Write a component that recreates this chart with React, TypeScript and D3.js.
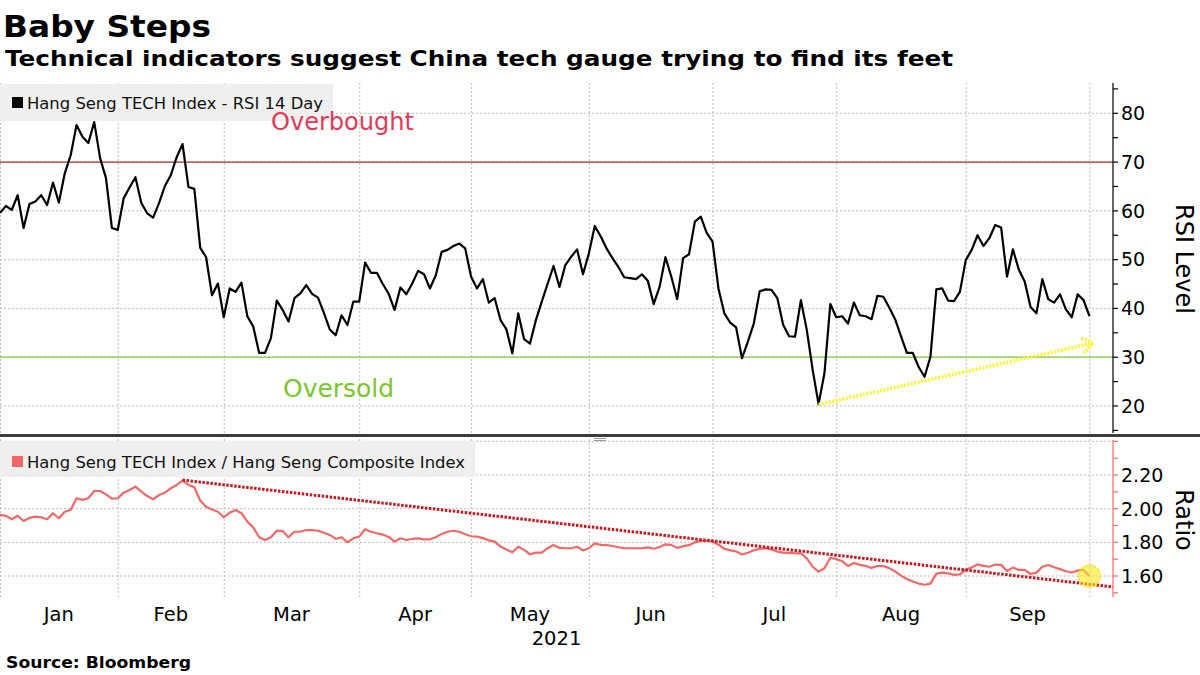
import React from 'react';
import * as d3 from 'd3';

// ---- Data (one value per HK trading day, Jan 4 – Sep 30, 2021) ----
const rsiValues: number[] = [
  59.6, 61.0, 60.2, 63.2, 56.5, 61.4, 61.9, 63.2, 61.2, 65.8,
  61.7, 67.7, 71.4, 77.6, 75.2, 73.9, 78.2, 70.8, 66.7, 56.5,
  56.1, 62.6, 64.8, 66.9, 61.6, 59.5, 58.6, 61.6, 65.1, 67.3,
  71.0, 73.7, 64.9, 64.5, 52.4, 50.5, 42.7, 45.1, 38.2, 44.1,
  43.4, 45.3, 38.4, 36.3, 30.9, 30.9, 33.9, 41.6, 39.7, 37.3,
  42.1, 43.1, 44.8, 43.0, 42.2, 39.1, 35.7, 34.5, 38.6, 36.6,
  41.4, 41.4, 49.4, 47.3, 47.3, 45.0, 43.0, 39.7, 44.3, 42.9,
  45.1, 47.7, 47.0, 44.1, 46.8, 51.6, 52.0, 52.8, 53.3, 52.3,
  46.5, 44.1, 46.0, 41.2, 42.1, 37.6, 35.7, 30.8, 39.0, 33.7,
  32.8, 37.6, 41.4, 45.1, 48.7, 44.4, 48.9, 50.6, 52.1, 47.0,
  51.3, 56.9, 54.8, 52.3, 50.3, 48.5, 46.4, 46.2, 46.0, 47.0,
  45.7, 40.9, 44.4, 50.5, 46.5, 41.9, 50.3, 51.1, 57.8, 58.8,
  55.5, 53.7, 44.1, 39.0, 37.1, 36.1, 29.8, 33.2, 36.9, 43.5,
  43.9, 43.8, 42.1, 36.6, 34.3, 34.2, 41.7, 35.6, 27.4, 20.4,
  26.7, 40.9, 38.2, 38.4, 36.9, 41.2, 38.6, 38.4, 37.8, 42.6,
  42.4, 40.2, 37.8, 34.3, 30.9, 30.9, 28.0, 26.0, 30.1, 43.9,
  44.1, 41.6, 41.5, 43.4, 49.9, 52.0, 55.0, 52.8, 54.4, 57.1,
  56.6, 46.5, 52.1, 48.0, 45.5, 40.3, 39.0, 46.0, 41.9, 41.2,
  42.9, 39.8, 38.2, 42.9, 41.7, 38.4,
];

const ratioValues: number[] = [
  1.963, 1.957, 1.937, 1.958, 1.927, 1.945, 1.953, 1.949, 1.937, 1.973,
  1.943, 1.982, 1.992, 2.062, 2.052, 2.062, 2.105, 2.105, 2.085, 2.060,
  2.062, 2.095, 2.111, 2.131, 2.101, 2.075, 2.056, 2.081, 2.095, 2.121,
  2.141, 2.166, 2.141, 2.127, 2.048, 2.012, 1.995, 1.982, 1.949, 1.976,
  1.992, 1.973, 1.923, 1.889, 1.830, 1.814, 1.830, 1.869, 1.867, 1.830,
  1.863, 1.863, 1.873, 1.873, 1.869, 1.857, 1.844, 1.820, 1.830, 1.800,
  1.824, 1.834, 1.878, 1.863, 1.854, 1.846, 1.832, 1.804, 1.824, 1.814,
  1.820, 1.824, 1.818, 1.818, 1.830, 1.850, 1.863, 1.869, 1.863, 1.848,
  1.836, 1.834, 1.825, 1.812, 1.804, 1.775, 1.757, 1.741, 1.774, 1.755,
  1.729, 1.739, 1.739, 1.765, 1.784, 1.767, 1.765, 1.765, 1.774, 1.752,
  1.765, 1.794, 1.785, 1.784, 1.778, 1.771, 1.766, 1.765, 1.765, 1.765,
  1.770, 1.762, 1.772, 1.788, 1.785, 1.767, 1.777, 1.783, 1.800, 1.809,
  1.808, 1.805, 1.786, 1.762, 1.752, 1.746, 1.728, 1.738, 1.753, 1.761,
  1.765, 1.758, 1.745, 1.739, 1.737, 1.735, 1.735, 1.705, 1.655, 1.626,
  1.646, 1.708, 1.701, 1.688, 1.660, 1.677, 1.666, 1.660, 1.648, 1.659,
  1.659, 1.647, 1.627, 1.602, 1.582, 1.567, 1.555, 1.548, 1.555, 1.614,
  1.620, 1.616, 1.607, 1.610, 1.638, 1.650, 1.669, 1.660, 1.655, 1.668,
  1.666, 1.630, 1.650, 1.636, 1.636, 1.612, 1.620, 1.655, 1.665, 1.652,
  1.641, 1.628, 1.621, 1.632, 1.636, 1.600,
];

const monthLabels = ['Jan', 'Feb', 'Mar', 'Apr', 'May', 'Jun', 'Jul', 'Aug', 'Sep'];
const monthStartIdx = [0, 20, 38, 61, 80, 100, 121, 142, 164, 185];
const yearLabel = '2021';

const rsiGridTicks = [20, 30, 40, 50, 60, 70, 80];
const rsiLabelTicks = [20, 30, 40, 50, 60, 70, 80];
const rsiMinorTicks = [15, 20, 25, 30, 35, 40, 45, 50, 55, 60, 65, 70, 75, 80, 85];
const ratioGridTicks = [1.6, 1.8, 2.0, 2.2, 2.4];
const ratioLabelTicks = [1.6, 1.8, 2.0, 2.2];
const ratioMinorTicks = [1.5, 1.6, 1.7, 1.8, 1.9, 2.0, 2.1, 2.2, 2.3, 2.4];

const overbought = 70;
const oversold = 30;
const rsiTrend = [{ i: 139, v: 20.3 }, { i: 185.6, v: 32.9 }];
const ratioTrend = [{ i: 31, v: 2.17 }, { i: 189, v: 1.535 }];

const FONT = 'DejaVu Sans, Verdana, sans-serif';

export default function App() {
  const W = 1200;
  const H = 675;
  const axisX = 1113;
  const topY0 = 83;
  const topY1 = 433;
  const botY0 = 440;
  const botY1 = 597;

  const x = d3.scaleLinear().domain([0, 189]).range([0, axisX]);
  const yR = d3.scaleLinear().domain([20, 80]).range([406, 113.3]);
  const yQ = d3.scaleLinear().domain([1.6, 2.2]).range([576, 475]);

  const rsiLine = d3.line<number>().x((_, i) => x(i)).y((d) => yR(d))(rsiValues) || '';
  const ratioLine = d3.line<number>().x((_, i) => x(i)).y((d) => yQ(d))(ratioValues) || '';

  // yellow arrow
  const ax0 = x(rsiTrend[0].i), ay0 = yR(rsiTrend[0].v);
  const ax1 = x(rsiTrend[1].i), ay1 = yR(rsiTrend[1].v);
  const ang = Math.atan2(ay1 - ay0, ax1 - ax0);
  const wing = 14;
  const w1 = [ax1 - wing * Math.cos(ang - 0.6), ay1 - wing * Math.sin(ang - 0.6)];
  const w2 = [ax1 - wing * Math.cos(ang + 0.6), ay1 - wing * Math.sin(ang + 0.6)];

  const lastI = ratioValues.length - 1;

  const monthMid = monthLabels.map((m, k) => ({
    m,
    cx: (x(monthStartIdx[k]) + x(monthStartIdx[k + 1])) / 2,
  }));

  return (
    <svg
      width={W}
      height={H}
      viewBox={`0 0 ${W} ${H}`}
      style={{ position: 'absolute', left: 0, top: 0, background: '#fff' }}
    >
      <rect x={0} y={0} width={W} height={H} fill="#fff" />

      {/* Titles */}
      <text x={3} y={36.5} fontFamily={FONT} fontWeight="bold" fontSize={30} fill="#000"
        textLength={208} lengthAdjust="spacingAndGlyphs">Baby Steps</text>
      <text x={5} y={66} fontFamily={FONT} fontWeight="bold" fontSize={22} fill="#000"
        textLength={948} lengthAdjust="spacingAndGlyphs">
        Technical indicators suggest China tech gauge trying to find its feet
      </text>

      {/* vertical month gridlines */}
      {monthStartIdx.map((idx) => (
        <line key={'vg' + idx} x1={x(idx) + 0.5} x2={x(idx) + 0.5} y1={topY0} y2={botY1}
          stroke="#bdbdbd" strokeWidth={1} strokeDasharray="2,2" />
      ))}

      {/* top panel horizontal gridlines */}
      {rsiGridTicks.map((t) => (
        <line key={'hg' + t} x1={0} x2={axisX} y1={yR(t)} y2={yR(t)}
          stroke="#bdbdbd" strokeWidth={1} strokeDasharray="2,2" />
      ))}
      {/* bottom panel horizontal gridlines */}
      {ratioGridTicks.map((t) => (
        <line key={'qg' + t} x1={0} x2={axisX} y1={yQ(t)} y2={yQ(t)}
          stroke="#bdbdbd" strokeWidth={1} strokeDasharray="2,2" />
      ))}

      {/* legend top */}
      <rect x={0} y={84} width={333} height={37} fill="#efefef" />
      <rect x={12} y={97} width={11} height={11} fill="#000" />
      <text x={27} y={108.5} fontFamily={FONT} fontSize={16.4} fill="#111"
        textLength={296} lengthAdjust="spacingAndGlyphs">Hang Seng TECH Index - RSI 14 Day</text>

      {/* overbought / oversold */}
      <line x1={0} x2={axisX} y1={yR(overbought)} y2={yR(overbought)} stroke="#a8322a" strokeWidth={1.2} />
      <line x1={0} x2={axisX} y1={yR(oversold)} y2={yR(oversold)} stroke="#8cc63f" strokeWidth={1.2} />
      <text x={271} y={130} fontFamily={FONT} fontSize={24} fill="#e0395a"
        textLength={143} lengthAdjust="spacingAndGlyphs">Overbought</text>
      <text x={283} y={397} fontFamily={FONT} fontSize={24} fill="#7cc62b"
        textLength={111} lengthAdjust="spacingAndGlyphs">Oversold</text>

      {/* RSI line */}
      <path d={rsiLine} fill="none" stroke="#000" strokeWidth={2.2} strokeLinejoin="round" />

      {/* yellow arrow */}
      <g stroke="#f9f62e" strokeWidth={3.5} strokeDasharray="2,1.5" fill="none">
        <line x1={ax0} y1={ay0} x2={ax1} y2={ay1} />
        <polyline points={`${w1[0]},${w1[1]} ${ax1},${ay1} ${w2[0]},${w2[1]}`} />
      </g>

      {/* right axis top */}
      <line x1={axisX} x2={axisX} y1={topY0} y2={topY1} stroke="#000" strokeWidth={1.2} />
      {rsiMinorTicks.map((t) => (
        <line key={'rt' + t} x1={axisX} x2={axisX + 5} y1={yR(t)} y2={yR(t)} stroke="#000" strokeWidth={1.2} />
      ))}
      {rsiLabelTicks.map((t) => (
        <text key={'rl' + t} x={1121} y={yR(t)} dy="0.36em" fontFamily={FONT} fontSize={19} fill="#000">{t}</text>
      ))}
      <text x={1176} y={259} fontFamily={FONT} fontSize={24} fill="#000" textAnchor="middle"
        transform="rotate(90 1176 259)">RSI Level</text>

      {/* panel separator */}
      <rect x={0} y={434} width={W} height={3} fill="#3c3c3c" />
      <line x1={594} x2={606} y1={438.5} y2={438.5} stroke="#9a9a9a" strokeWidth={1} />
      <line x1={594} x2={606} y1={440.5} y2={440.5} stroke="#9a9a9a" strokeWidth={1} />

      {/* legend bottom */}
      <rect x={0} y={441} width={475} height={36} fill="#efefef" />
      <rect x={12} y={456} width={11} height={11} fill="#f06868" />
      <text x={27} y={467.5} fontFamily={FONT} fontSize={16.4} fill="#111"
        textLength={438} lengthAdjust="spacingAndGlyphs">Hang Seng TECH Index / Hang Seng Composite Index</text>

      {/* ratio line */}
      <path d={ratioLine} fill="none" stroke="#f06868" strokeWidth={2.2} strokeLinejoin="round" />

      {/* red dotted trendline */}
      <line x1={x(ratioTrend[0].i)} y1={yQ(ratioTrend[0].v)} x2={x(ratioTrend[1].i)} y2={yQ(ratioTrend[1].v)}
        stroke="#c8161d" strokeWidth={3} strokeDasharray="2.5,1.5" />

      {/* yellow highlight circle */}
      <circle cx={x(lastI)} cy={yQ(ratioValues[lastI])} r={11} fill="#ffe81a" fillOpacity={0.6}
        stroke="#f5e000" strokeWidth={1.5} strokeDasharray="1.5,1.5" />

      {/* right axis bottom */}
      <line x1={axisX} x2={axisX} y1={botY0} y2={botY1} stroke="#f07070" strokeWidth={1.2} />
      {ratioMinorTicks.map((t) => (
        <line key={'qt' + t} x1={axisX} x2={axisX + 5} y1={yQ(t)} y2={yQ(t)} stroke="#f07070" strokeWidth={1.2} />
      ))}
      {ratioLabelTicks.map((t) => (
        <text key={'ql' + t} x={1121} y={yQ(t)} dy="0.36em" fontFamily={FONT} fontSize={19} fill="#000">{t.toFixed(2)}</text>
      ))}
      <text x={1176} y={520} fontFamily={FONT} fontSize={24} fill="#000" textAnchor="middle"
        transform="rotate(90 1176 520)">Ratio</text>

      {/* x axis labels */}
      {monthMid.map(({ m, cx }) => (
        <text key={m} x={cx} y={621} fontFamily={FONT} fontSize={19.5} fill="#000" textAnchor="middle">{m}</text>
      ))}
      <text x={axisX / 2} y={645} fontFamily={FONT} fontSize={19.5} fill="#000" textAnchor="middle">{yearLabel}</text>

      {/* source */}
      <text x={6} y={668} fontFamily={FONT} fontWeight="bold" fontSize={16} fill="#000"
        textLength={185} lengthAdjust="spacingAndGlyphs">Source: Bloomberg</text>
    </svg>
  );
}
